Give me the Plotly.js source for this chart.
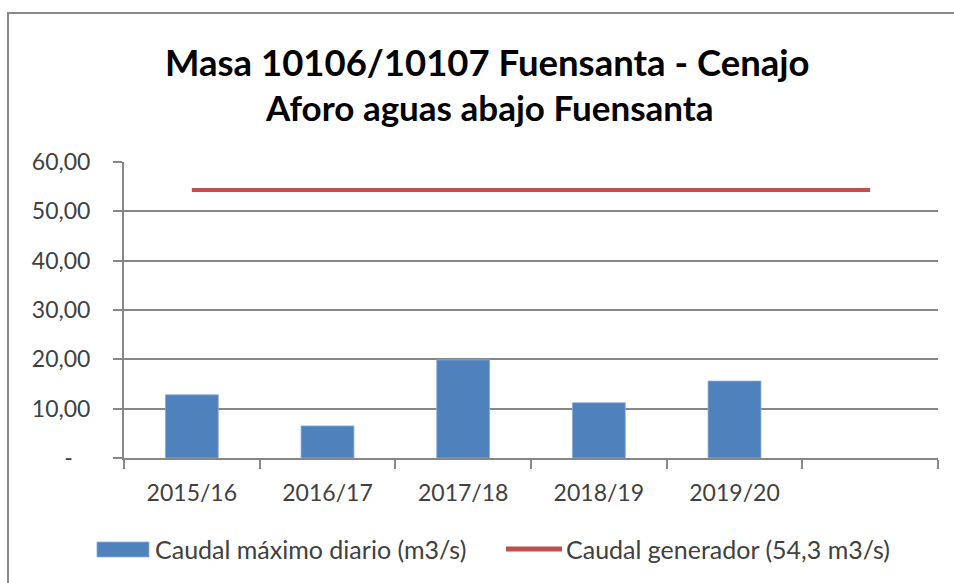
<!DOCTYPE html>
<html>
<head>
<meta charset="utf-8">
<script src="https://cdn.plot.ly/plotly-3.0.1.min.js"></script>
<style>
  html, body { margin: 0; padding: 0; background: #fff; }
  #wrap { position: relative; width: 954px; height: 583px; }
  #chart { width: 954px; height: 583px; }
  #frame { position: absolute; left: 7px; top: 12px; width: 947px; height: 571px;
           border-top: 2px solid #8a8a8a; border-left: 2px solid #8a8a8a;
           box-sizing: border-box; pointer-events: none; }
</style>
</head>
<body>
<div id="wrap">
  <div id="chart"></div>
  <div id="frame"></div>
</div>
<script>
// ---- data ----
const categories = ['2015/16', '2016/17', '2017/18', '2018/19', '2019/20', '\u00a0'];
const caudalMaximo = [12.8, 6.5, 19.9, 11.2, 15.6, null];
const caudalGenerador = [54.3, 54.3, 54.3, 54.3, 54.3, 54.3];
const yTickVals = [0, 10, 20, 30, 40, 50, 60];
const yTickText = ['-\u00a0\u00a0\u00a0', '10,00', '20,00', '30,00', '40,00', '50,00', '60,00'];
const titleLine1 = 'Masa 10106/10107 Fuensanta - Cenajo';
const titleLine2 = 'Aforo aguas abajo Fuensanta';
const seriesNames = ['Caudal máximo diario (m3/s)', 'Caudal generador (54,3 m3/s)'];

const gridColor = '#878787';
const textColor = '#404040';
const barColor = '#4F81BD';
const lineColor = '#C0504D';
const font = 'Lato, "Open Sans", sans-serif';

const traces = [
  {
    type: 'bar',
    x: categories,
    y: caudalMaximo,
    name: seriesNames[0],
    marker: { color: barColor, line: { color: 'rgba(140,175,220,0.8)', width: 1 } },
    hoverinfo: 'x+y'
  },
  {
    type: 'scatter',
    mode: 'lines',
    x: categories,
    y: caudalGenerador,
    name: seriesNames[1],
    line: { color: lineColor, width: 4 },
    hoverinfo: 'x+y'
  }
];

// custom Excel-style legend (swatches + text) placed below the plot
const legendY = -0.3074;
const legendShapes = [
  { type: 'rect', xref: 'paper', yref: 'paper',
    x0: -0.0332, x1: 0.0307, y0: -0.3345, y1: -0.2838,
    fillcolor: barColor, line: { color: 'rgba(140,175,220,0.8)', width: 1 } },
  { type: 'line', xref: 'paper', yref: 'paper',
    x0: 0.4693, x1: 0.5381, y0: legendY, y1: legendY,
    line: { color: lineColor, width: 5 } }
];
const legendAnnotations = [
  { text: seriesNames[0], xref: 'paper', yref: 'paper', x: 0.036, y: legendY,
    xanchor: 'left', yanchor: 'middle', showarrow: false,
    font: { family: font, size: 25, color: textColor } },
  { text: seriesNames[1], xref: 'paper', yref: 'paper', x: 0.541, y: legendY,
    xanchor: 'left', yanchor: 'middle', showarrow: false,
    font: { family: font, size: 25, color: textColor } }
];

const layout = {
  width: 954,
  height: 583,
  margin: { l: 124, r: 16, t: 162, b: 125 },
  paper_bgcolor: '#ffffff',
  plot_bgcolor: '#ffffff',
  font: { family: font, color: textColor, size: 23 },
  bargap: 0.61,
  showlegend: false,
  xaxis: {
    type: 'category',
    tickson: 'boundaries',
    ticks: 'outside',
    ticklen: 9,
    tickwidth: 2,
    tickcolor: gridColor,
    showline: true,
    linecolor: gridColor,
    linewidth: 2,
    showgrid: false,
    zeroline: false,
    tickfont: { family: font, size: 23, color: textColor },
    ticklabelstandoff: 13,
    fixedrange: true
  },
  yaxis: {
    range: [0, 60],
    tickmode: 'array',
    tickvals: yTickVals,
    ticktext: yTickText,
    ticks: 'outside',
    ticklen: 9,
    tickwidth: 2,
    tickcolor: gridColor,
    showline: true,
    linecolor: gridColor,
    linewidth: 2,
    showgrid: true,
    gridcolor: gridColor,
    gridwidth: 2,
    zeroline: false,
    tickfont: { family: font, size: 23, color: textColor },
    ticklabelstandoff: 18,
    fixedrange: true
  },
  shapes: legendShapes,
  annotations: [
    {
      text: '<b>' + titleLine1 + '</b>',
      xref: 'paper', yref: 'paper',
      x: 0.447, y: 1.338, xanchor: 'center', yanchor: 'middle',
      showarrow: false,
      font: { family: font, size: 36.5, color: '#000000' }
    },
    {
      text: '<b>' + titleLine2 + '</b>',
      xref: 'paper', yref: 'paper',
      x: 0.449, y: 1.186, xanchor: 'center', yanchor: 'middle',
      showarrow: false,
      font: { family: font, size: 35, color: '#000000' }
    }
  ].concat(legendAnnotations)
};

Plotly.newPlot('chart', traces, layout, { displayModeBar: false });
</script>
</body>
</html>
